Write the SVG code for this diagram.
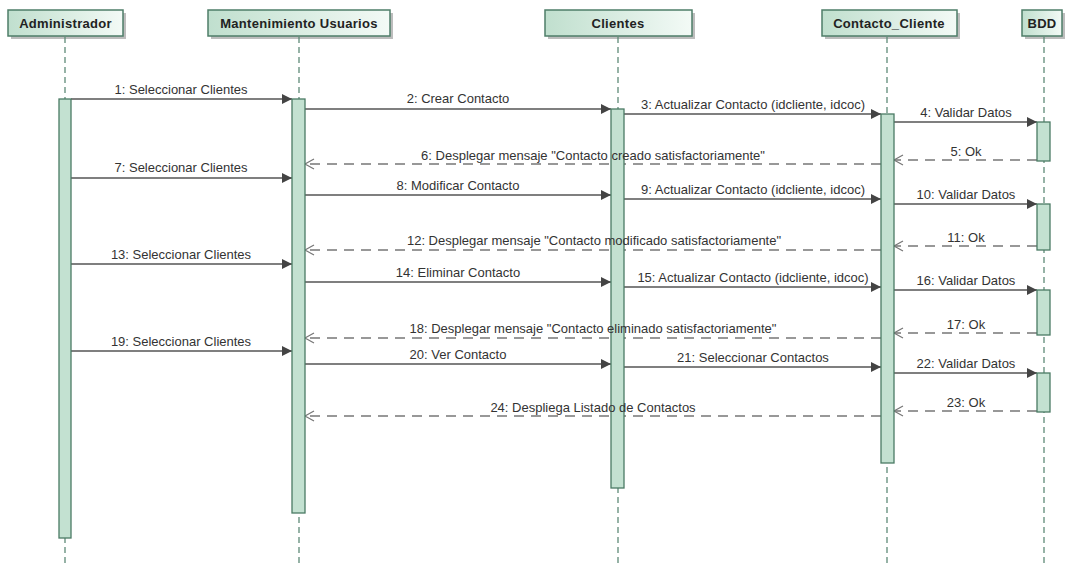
<svg xmlns="http://www.w3.org/2000/svg" width="1067" height="563" viewBox="0 0 1067 563">
<defs>
<linearGradient id="hdr" x1="0" y1="0" x2="1" y2="0">
<stop offset="0" stop-color="#c0dfce"/>
<stop offset="1" stop-color="#f3faf6"/>
</linearGradient>
<marker id="fill" markerUnits="userSpaceOnUse" markerWidth="12" markerHeight="12" refX="10" refY="5" orient="auto" overflow="visible">
<path d="M0,0 L10,5 L0,10 z" fill="#444"/>
</marker>
<marker id="open" markerUnits="userSpaceOnUse" markerWidth="12" markerHeight="12" refX="10" refY="5" orient="auto" overflow="visible">
<path d="M1,0 L10,5 L1,10" fill="none" stroke="#777" stroke-width="1.2"/>
</marker>
</defs>
<style>
.hbox{fill:url(#hdr);stroke:#4e7d68;stroke-width:1.5}
.shadow{fill:#bdbdbd}
.htxt{font-family:"Liberation Sans",Arial,sans-serif;font-size:13px;font-weight:bold;fill:#222;text-anchor:middle;letter-spacing:0.3px}
.life{stroke:#5f8a78;stroke-width:1.3;stroke-dasharray:6,4;fill:none}
.bar{fill:#c3e1d1;stroke:#4a7a64;stroke-width:1.3}
.msg{stroke:#555;stroke-width:1.3;fill:none;marker-end:url(#fill)}
.ret{stroke:#777;stroke-width:1.3;fill:none;stroke-dasharray:10,7;marker-end:url(#open)}
.lbl{font-family:"Liberation Sans",Arial,sans-serif;font-size:13px;fill:#333;text-anchor:middle}
</style>
<rect width="1067" height="563" fill="#fff"/>

<g id="connectors">
<line class="msg" x1="71" y1="99" x2="292" y2="99"/>
<line class="msg" x1="305" y1="109" x2="611" y2="109"/>
<line class="msg" x1="624" y1="114" x2="881" y2="114"/>
<line class="msg" x1="894" y1="122" x2="1037" y2="122"/>
<line class="ret" x1="1037" y1="160" x2="894" y2="160"/>
<line class="ret" x1="881" y1="164" x2="305" y2="164"/>
<line class="msg" x1="71" y1="178" x2="292" y2="178"/>
<line class="msg" x1="305" y1="195" x2="611" y2="195"/>
<line class="msg" x1="624" y1="199" x2="881" y2="199"/>
<line class="msg" x1="894" y1="204" x2="1037" y2="204"/>
<line class="ret" x1="1037" y1="246" x2="894" y2="246"/>
<line class="ret" x1="881" y1="250" x2="305" y2="250"/>
<line class="msg" x1="71" y1="264" x2="292" y2="264"/>
<line class="msg" x1="305" y1="282" x2="611" y2="282"/>
<line class="msg" x1="624" y1="287" x2="881" y2="287"/>
<line class="msg" x1="894" y1="290" x2="1037" y2="290"/>
<line class="ret" x1="1037" y1="333" x2="894" y2="333"/>
<line class="ret" x1="881" y1="338" x2="305" y2="338"/>
<line class="msg" x1="71" y1="351" x2="292" y2="351"/>
<line class="msg" x1="305" y1="364" x2="611" y2="364"/>
<line class="msg" x1="624" y1="367" x2="881" y2="367"/>
<line class="msg" x1="894" y1="373" x2="1037" y2="373"/>
<line class="ret" x1="1037" y1="411" x2="894" y2="411"/>
<line class="ret" x1="881" y1="416" x2="305" y2="416"/>
</g>

<g id="administrador">
<rect class="shadow" x="11" y="13" width="115" height="26"/>
<rect class="hbox" x="8" y="10" width="115" height="26"/>
<text class="htxt" x="65.5" y="27.5">Administrador</text>
<line class="life" x1="65" y1="37" x2="65" y2="563"/>
<rect class="bar" x="59" y="99" width="12" height="439"/>
</g>

<g id="mantenimiento">
<rect class="shadow" x="211" y="13" width="182" height="26"/>
<rect class="hbox" x="208" y="10" width="182" height="26"/>
<text class="htxt" x="299" y="27.5">Mantenimiento Usuarios</text>
<line class="life" x1="299" y1="37" x2="299" y2="563"/>
<rect class="bar" x="292" y="99" width="13" height="414"/>
</g>

<g id="clientes">
<rect class="shadow" x="548" y="13" width="147" height="26"/>
<rect class="hbox" x="545" y="10" width="147" height="26"/>
<text class="htxt" x="618" y="27.5">Clientes</text>
<line class="life" x1="618" y1="37" x2="618" y2="563"/>
<rect class="bar" x="611" y="109" width="13" height="379"/>
</g>

<g id="contacto_cliente">
<rect class="shadow" x="825" y="13" width="135" height="26"/>
<rect class="hbox" x="822" y="10" width="135" height="26"/>
<text class="htxt" x="889" y="27.5">Contacto_Cliente</text>
<line class="life" x1="887" y1="37" x2="887" y2="563"/>
<rect class="bar" x="881" y="114" width="13" height="349"/>
</g>

<g id="bdd">
<rect class="shadow" x="1025" y="13" width="40" height="26"/>
<rect class="hbox" x="1022" y="10" width="40" height="26"/>
<text class="htxt" x="1042" y="27.5">BDD</text>
<line class="life" x1="1044" y1="37" x2="1044" y2="563"/>
<rect class="bar" x="1037" y="122" width="13" height="39"/>
<rect class="bar" x="1037" y="204" width="13" height="46"/>
<rect class="bar" x="1037" y="290" width="13" height="45"/>
<rect class="bar" x="1037" y="373" width="13" height="39"/>
</g>

<g id="labels">
<text class="lbl" x="181" y="94">1: Seleccionar Clientes</text>
<text class="lbl" x="458" y="103">2: Crear Contacto</text>
<text class="lbl" x="753" y="109">3: Actualizar Contacto (idcliente, idcoc)</text>
<text class="lbl" x="966" y="117">4: Validar Datos</text>
<text class="lbl" x="966" y="156">5: Ok</text>
<text class="lbl" x="593" y="160">6: Desplegar mensaje "Contacto creado satisfactoriamente"</text>
<text class="lbl" x="181" y="172">7: Seleccionar Clientes</text>
<text class="lbl" x="458" y="190">8: Modificar Contacto</text>
<text class="lbl" x="753" y="194">9: Actualizar Contacto (idcliente, idcoc)</text>
<text class="lbl" x="966" y="199">10: Validar Datos</text>
<text class="lbl" x="966" y="242">11: Ok</text>
<text class="lbl" x="594" y="245">12: Desplegar mensaje "Contacto modificado satisfactoriamente"</text>
<text class="lbl" x="181" y="259">13: Seleccionar Clientes</text>
<text class="lbl" x="458" y="277">14: Eliminar Contacto</text>
<text class="lbl" x="753" y="282">15: Actualizar Contacto (idcliente, idcoc)</text>
<text class="lbl" x="966" y="285">16: Validar Datos</text>
<text class="lbl" x="966" y="329">17: Ok</text>
<text class="lbl" x="593" y="333">18: Desplegar mensaje "Contacto eliminado satisfactoriamente"</text>
<text class="lbl" x="181" y="346">19: Seleccionar Clientes</text>
<text class="lbl" x="458" y="359">20: Ver Contacto</text>
<text class="lbl" x="753" y="362">21: Seleccionar Contactos</text>
<text class="lbl" x="966" y="368">22: Validar Datos</text>
<text class="lbl" x="966" y="407">23: Ok</text>
<text class="lbl" x="593" y="412">24: Despliega Listado de Contactos</text>
</g>
</svg>
